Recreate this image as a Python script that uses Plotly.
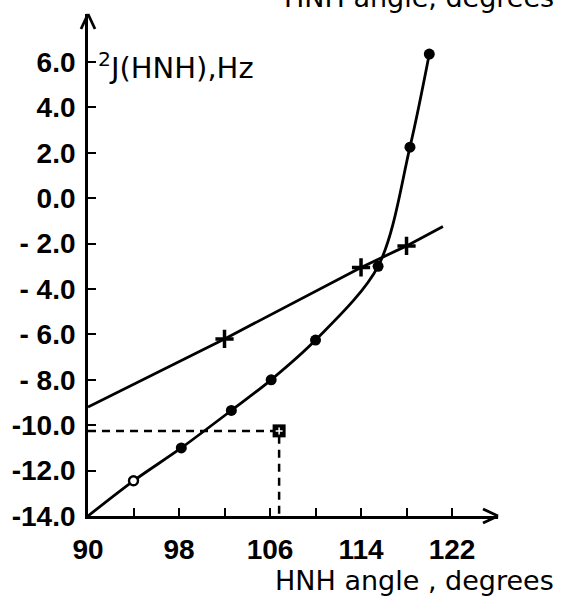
import plotly.graph_objects as go

# ---- data ----
curve_x = [90, 94, 98.2, 102.6, 106.1, 110, 115.5, 118.3, 120]
curve_y = [-14.0, -12.45, -11.0, -9.35, -8.0, -6.25, -3.0, 2.25, 6.35]
open_x = [94]
open_y = [-12.45]
dot_x = [98.2, 102.6, 106.1, 110, 115.5, 118.3, 120]
dot_y = [-11.0, -9.35, -8.0, -6.25, -3.0, 2.25, 6.35]

lin_x = [90, 102, 114, 118, 121.2]
lin_y = [-9.2, -6.2, -3.05, -2.1, -1.25]
plus_x = [102, 114, 118]
plus_y = [-6.2, -3.05, -2.1]

sq_x = [106.8]
sq_y = [-10.25]

x_min, x_max = 90, 126.04
y_min, y_max = -14.0, 8.115

x_tickvals = [90, 98, 106, 114, 122]
x_ticktext = ["90", "98", "106", "114", "122"]
y_tickvals = [6, 4, 2, 0, -2, -4, -6, -8, -10, -12, -14]
y_ticktext = ["6.0", "4.0", "2.0", "0.0", "- 2.0", "- 4.0", "- 6.0", "- 8.0",
              "-10.0", "-12.0", "-14.0"]

x_title = "HNH angle , degrees"
x_title_top = "HNH angle, degrees"
y_title = "<sup>2</sup>J(HNH),Hz"

BLACK = "#000000"
fig = go.Figure()

# dashed guide lines for the square point
fig.add_trace(go.Scatter(
    x=[x_min, sq_x[0], sq_x[0]], y=[sq_y[0], sq_y[0], y_min],
    mode="lines", line=dict(color=BLACK, width=2.5, dash="8px,6px"),
    hoverinfo="skip", showlegend=False, cliponaxis=False))

# straight line with + markers
fig.add_trace(go.Scatter(x=lin_x, y=lin_y, mode="lines",
                         line=dict(color=BLACK, width=2.8),
                         showlegend=False, cliponaxis=False))
fig.add_trace(go.Scatter(x=plus_x, y=plus_y, mode="markers",
                         marker=dict(symbol="cross-thin", size=13,
                                     line=dict(color=BLACK, width=3.5)),
                         showlegend=False))

# curved line with dots
fig.add_trace(go.Scatter(x=curve_x, y=curve_y, mode="lines",
                         line=dict(color=BLACK, width=2.8, shape="spline", smoothing=0.9),
                         showlegend=False, cliponaxis=False))
fig.add_trace(go.Scatter(x=dot_x, y=dot_y, mode="markers",
                         marker=dict(symbol="circle", size=11, color=BLACK),
                         showlegend=False))
fig.add_trace(go.Scatter(x=open_x, y=open_y, mode="markers",
                         marker=dict(symbol="circle", size=9, color="white",
                                     line=dict(color=BLACK, width=2.4)),
                         showlegend=False))

# square point
fig.add_trace(go.Scatter(x=sq_x, y=sq_y, mode="markers",
                         marker=dict(symbol="square", size=13, color=BLACK),
                         showlegend=False, cliponaxis=False))
fig.add_trace(go.Scatter(x=sq_x, y=sq_y, mode="markers",
                         marker=dict(symbol="cross-thin", size=5,
                                     line=dict(color="white", width=1.5)),
                         showlegend=False, cliponaxis=False))

tick_font = dict(family="Liberation Sans, Arial, sans-serif", size=28,
                 color=BLACK, weight="bold")
title_font = dict(family="DejaVu Sans, sans-serif", size=27, color=BLACK)

fig.update_xaxes(range=[x_min, x_max], showgrid=False, zeroline=False,
                 showline=True, linecolor=BLACK, linewidth=2.8,
                 tickmode="array", tickvals=x_tickvals, ticktext=x_ticktext,
                 ticks="inside", ticklen=8, tickwidth=2.2, tickcolor=BLACK,
                 minor=dict(tick0=90, dtick=4, ticks="inside", ticklen=8,
                            tickwidth=2.2, tickcolor=BLACK),
                 tickfont=tick_font, ticklabelstandoff=6)
fig.update_yaxes(range=[y_min, y_max], showgrid=False, zeroline=False,
                 showline=True, linecolor=BLACK, linewidth=2.8,
                 tickmode="array", tickvals=y_tickvals, ticktext=y_ticktext,
                 ticks="inside", ticklen=8, tickwidth=2.2, tickcolor=BLACK,
                 tickfont=tick_font, ticklabelstandoff=4)

# arrow heads (open V) on the axes
arrow_shapes = []
for dy in (7, -7):
    arrow_shapes.append(dict(type="line", xref="paper", yref="paper",
                             xsizemode="pixel", ysizemode="pixel",
                             xanchor=1, yanchor=0, x0=0, y0=0, x1=-15, y1=dy,
                             line=dict(color=BLACK, width=2.8)))
for dx in (7, -7):
    arrow_shapes.append(dict(type="line", xref="paper", yref="paper",
                             xsizemode="pixel", ysizemode="pixel",
                             xanchor=0, yanchor=1, x0=0, y0=0, x1=dx, y1=-15,
                             line=dict(color=BLACK, width=2.8)))

plot_w = 564 - 88 - 66
fig.update_layout(
    width=564, height=604,
    margin=dict(l=88, r=66, t=14, b=88),
    plot_bgcolor="white", paper_bgcolor="white",
    shapes=arrow_shapes,
    annotations=[
        dict(text=y_title, xref="paper", yref="paper", x=0, y=1,
             xanchor="left", yanchor="middle", xshift=8, yshift=-52,
             showarrow=False,
             font=dict(family="DejaVu Sans, sans-serif", size=29, color=BLACK)),
        dict(text=x_title, xref="paper", yref="paper", x=(556 - 88) / plot_w, y=0,
             xanchor="right", yanchor="middle", yshift=-64,
             showarrow=False, font=title_font),
        dict(text=x_title_top, xref="paper", yref="paper", x=(556 - 88) / plot_w, y=1,
             xanchor="right", yanchor="middle", yshift=17,
             showarrow=False, font=title_font),
    ],
)

fig.write_html("out.html")
